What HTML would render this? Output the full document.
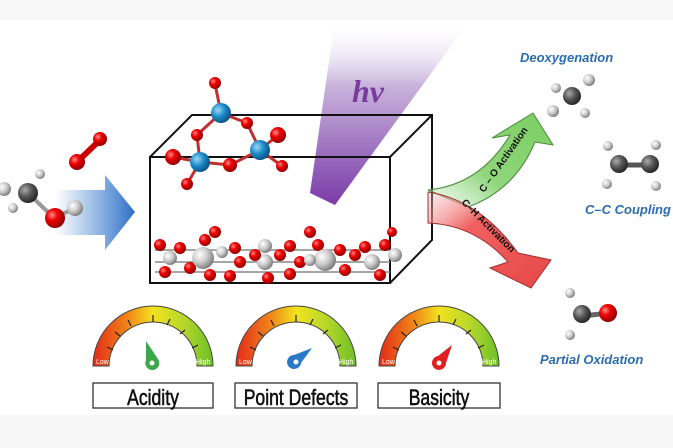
<!DOCTYPE html>
<html><head><meta charset="utf-8"><style>
html,body{margin:0;padding:0;background:#fff;}
svg{display:block}
.lab{font-family:"Liberation Sans",sans-serif;font-style:italic;font-weight:bold;fill:#2a6db0;font-size:13px}
.hand{font-family:"Liberation Sans Narrow","Liberation Sans",sans-serif;font-size:22px;fill:#111;stroke:#111;stroke-width:0.6}
</style></head><body>
<svg width="673" height="448" viewBox="0 0 673 448" xmlns="http://www.w3.org/2000/svg">
<defs>
<linearGradient id="beam" x1="0" y1="0" x2="0" y2="1">
<stop offset="0" stop-color="#fff" stop-opacity="0"/><stop offset="0.35" stop-color="#c9b4dc"/><stop offset="1" stop-color="#7a3aa8"/></linearGradient>
<linearGradient id="blue" x1="0" y1="0" x2="1" y2="0">
<stop offset="0" stop-color="#3d7fd0" stop-opacity="0"/><stop offset="1" stop-color="#2d6fc6"/></linearGradient>
<linearGradient id="gauge" x1="0" y1="0" x2="1" y2="0">
<stop offset="0" stop-color="#e42a1a"/><stop offset="0.3" stop-color="#f08a18"/><stop offset="0.5" stop-color="#f2e21e"/><stop offset="0.75" stop-color="#b8d82a"/><stop offset="1" stop-color="#6cbf2a"/></linearGradient>
<radialGradient id="red" cx="0.35" cy="0.35" r="0.7"><stop offset="0" stop-color="#ff8a8a"/><stop offset="0.4" stop-color="#e00"/><stop offset="1" stop-color="#800"/></radialGradient>
<radialGradient id="gray" cx="0.35" cy="0.35" r="0.7"><stop offset="0" stop-color="#fff"/><stop offset="0.5" stop-color="#ccc"/><stop offset="1" stop-color="#777"/></radialGradient>
<radialGradient id="dark" cx="0.35" cy="0.35" r="0.7"><stop offset="0" stop-color="#aaa"/><stop offset="0.5" stop-color="#555"/><stop offset="1" stop-color="#222"/></radialGradient>
<radialGradient id="bl" cx="0.35" cy="0.35" r="0.7"><stop offset="0" stop-color="#9fd8f5"/><stop offset="0.5" stop-color="#1a8ac8"/><stop offset="1" stop-color="#0a4f80"/></radialGradient>
<linearGradient id="grn" x1="0" y1="1" x2="1" y2="0"><stop offset="0" stop-color="#cdeecf" stop-opacity="0.3"/><stop offset="0.4" stop-color="#8fd67a"/><stop offset="1" stop-color="#7bcf62"/></linearGradient>
<linearGradient id="rd" x1="0" y1="0" x2="1" y2="1"><stop offset="0" stop-color="#f6c0c0" stop-opacity="0.3"/><stop offset="0.35" stop-color="#f06060"/><stop offset="1" stop-color="#e84848"/></linearGradient>
</defs>
<rect width="673" height="20" fill="#f8f8f8"/>
<rect y="415" width="673" height="33" fill="#f7f7f7"/>

<!-- beam -->
<polygon points="335,20 470,20 335,205 310,193" fill="url(#beam)"/>
<text x="352" y="102" font-family="Liberation Serif,serif" font-style="italic" font-weight="bold" font-size="32" fill="#7a3aa0">hν</text>

<!-- box -->
<g fill="none" stroke="#111" stroke-width="2">
<polygon points="150,157 390,157 390,283 150,283"/>
<polyline points="150,157 192,115 432,115 432,240 390,283"/>
<line x1="390" y1="157" x2="432" y2="115"/>
</g>

<!-- lattice -->
<g stroke="#888" stroke-width="1.5">
<line x1="155" y1="250" x2="390" y2="250"/><line x1="155" y1="262" x2="390" y2="262"/><line x1="155" y1="272" x2="390" y2="272"/>
</g>
<g>
<circle cx="160" cy="245" r="6" fill="url(#red)"/><circle cx="170" cy="258" r="7" fill="url(#gray)"/><circle cx="180" cy="248" r="6" fill="url(#red)"/><circle cx="165" cy="272" r="6" fill="url(#red)"/><circle cx="190" cy="268" r="6" fill="url(#red)"/>
<circle cx="205" cy="240" r="6" fill="url(#red)"/><circle cx="215" cy="232" r="6" fill="url(#red)"/><circle cx="203" cy="258" r="11" fill="url(#gray)"/><circle cx="222" cy="252" r="6" fill="url(#gray)"/><circle cx="210" cy="275" r="6" fill="url(#red)"/>
<circle cx="235" cy="248" r="6" fill="url(#red)"/><circle cx="240" cy="262" r="6" fill="url(#red)"/><circle cx="230" cy="276" r="6" fill="url(#red)"/>
<circle cx="265" cy="246" r="7" fill="url(#gray)"/><circle cx="265" cy="262" r="8" fill="url(#gray)"/><circle cx="255" cy="255" r="6" fill="url(#red)"/><circle cx="280" cy="255" r="6" fill="url(#red)"/><circle cx="268" cy="278" r="6" fill="url(#red)"/>
<circle cx="290" cy="246" r="6" fill="url(#red)"/><circle cx="300" cy="262" r="6" fill="url(#red)"/><circle cx="290" cy="274" r="6" fill="url(#red)"/>
<circle cx="310" cy="232" r="6" fill="url(#red)"/><circle cx="318" cy="245" r="6" fill="url(#red)"/><circle cx="325" cy="260" r="11" fill="url(#gray)"/><circle cx="310" cy="260" r="6" fill="url(#gray)"/><circle cx="340" cy="250" r="6" fill="url(#red)"/><circle cx="345" cy="270" r="6" fill="url(#red)"/>
<circle cx="355" cy="255" r="6" fill="url(#red)"/><circle cx="372" cy="262" r="8" fill="url(#gray)"/><circle cx="365" cy="247" r="6" fill="url(#red)"/><circle cx="380" cy="275" r="6" fill="url(#red)"/><circle cx="385" cy="245" r="6" fill="url(#red)"/><circle cx="392" cy="232" r="5" fill="url(#red)"/><circle cx="395" cy="255" r="7" fill="url(#gray)"/>
</g>

<!-- cluster -->
<g stroke="#c03030" stroke-width="3">
<line x1="215" y1="84" x2="221" y2="113"/><line x1="221" y1="113" x2="197" y2="135"/><line x1="221" y1="113" x2="247" y2="123"/><line x1="197" y1="135" x2="200" y2="162"/><line x1="247" y1="123" x2="260" y2="150"/><line x1="200" y1="162" x2="230" y2="165"/><line x1="230" y1="165" x2="260" y2="150"/><line x1="260" y1="150" x2="278" y2="135"/><line x1="260" y1="150" x2="282" y2="166"/><line x1="200" y1="162" x2="187" y2="184"/><line x1="200" y1="162" x2="173" y2="157"/>
</g>
<circle cx="215" cy="83" r="6" fill="url(#red)"/><circle cx="221" cy="113" r="10" fill="url(#bl)"/><circle cx="200" cy="162" r="10" fill="url(#bl)"/><circle cx="260" cy="150" r="10" fill="url(#bl)"/>
<circle cx="197" cy="135" r="6" fill="url(#red)"/><circle cx="247" cy="123" r="6" fill="url(#red)"/><circle cx="278" cy="135" r="8" fill="url(#red)"/><circle cx="230" cy="165" r="7" fill="url(#red)"/><circle cx="173" cy="157" r="8" fill="url(#red)"/><circle cx="282" cy="166" r="6" fill="url(#red)"/><circle cx="187" cy="184" r="6" fill="url(#red)"/>

<!-- blue arrow -->
<polygon points="55,190 105,190 105,175 135,212 105,250 105,235 55,235" fill="url(#blue)"/>

<!-- methanol & O2 -->
<line x1="77" y1="162" x2="100" y2="140" stroke="#c00" stroke-width="6"/>
<circle cx="77" cy="162" r="8" fill="url(#red)"/><circle cx="100" cy="139" r="7" fill="url(#red)"/>
<g stroke="#999" stroke-width="4"><line x1="28" y1="193" x2="54" y2="218"/><line x1="54" y1="218" x2="75" y2="208"/></g>
<circle cx="40" cy="174" r="5" fill="url(#gray)"/><circle cx="4" cy="189" r="7" fill="url(#gray)"/><circle cx="13" cy="208" r="5" fill="url(#gray)"/>
<circle cx="28" cy="193" r="10" fill="url(#dark)"/><circle cx="55" cy="218" r="10" fill="url(#red)"/><circle cx="75" cy="208" r="8" fill="url(#gray)"/>

<!-- green arrow -->
<path d="M428,190 Q480,185 510,135 L492,138 L533,113 L553,145 L535,142 Q515,190 468,207 Z" fill="url(#grn)" stroke="#4a8a3a" stroke-width="1"/>
<text transform="translate(484,193) rotate(-55)" font-family="Liberation Sans,sans-serif" font-size="10" font-weight="bold" fill="#111">C – O Activation</text>
<!-- red arrow -->
<path d="M428,192 Q480,200 518,253 L551,260 L531,288 L490,268 L508,262 Q475,225 428,223 Z" fill="url(#rd)" stroke="#a03030" stroke-width="1"/>
<text transform="translate(461,203) rotate(45)" font-family="Liberation Sans,sans-serif" font-size="10" font-weight="bold" fill="#111">C–H Activation</text>

<!-- products -->
<text class="lab" x="520" y="62">Deoxygenation</text>
<circle cx="556" cy="88" r="5" fill="url(#gray)"/><circle cx="589" cy="80" r="6" fill="url(#gray)"/><circle cx="553" cy="111" r="6" fill="url(#gray)"/><circle cx="585" cy="113" r="5" fill="url(#gray)"/>
<circle cx="572" cy="96" r="9" fill="url(#dark)"/>
<line x1="618" y1="165" x2="650" y2="165" stroke="#555" stroke-width="5"/>
<circle cx="608" cy="146" r="5" fill="url(#gray)"/><circle cx="656" cy="145" r="5" fill="url(#gray)"/><circle cx="607" cy="184" r="5" fill="url(#gray)"/><circle cx="656" cy="186" r="5" fill="url(#gray)"/>
<circle cx="619" cy="164" r="9" fill="url(#dark)"/><circle cx="650" cy="164" r="9" fill="url(#dark)"/>
<text class="lab" x="585" y="214" font-size="14">C–C Coupling</text>
<line x1="582" y1="316" x2="610" y2="313" stroke="#666" stroke-width="5"/>
<circle cx="570" cy="293" r="5" fill="url(#gray)"/><circle cx="570" cy="335" r="5" fill="url(#gray)"/>
<circle cx="582" cy="314" r="9" fill="url(#dark)"/><circle cx="608" cy="313" r="9" fill="url(#red)"/>
<text class="lab" x="540" y="364">Partial Oxidation</text>

<!-- gauges -->
<path d="M93,366 A60,60 0 0 1 213,366 L197,366 A44,44 0 0 0 109,366 Z" fill="url(#gauge)" stroke="#444" stroke-width="1"/>
<path d="M236,366 A60,60 0 0 1 356,366 L340,366 A44,44 0 0 0 252,366 Z" fill="url(#gauge)" stroke="#444" stroke-width="1"/>
<path d="M379,366 A60,60 0 0 1 499,366 L483,366 A44,44 0 0 0 395,366 Z" fill="url(#gauge)" stroke="#444" stroke-width="1"/>
<g stroke="#222" stroke-width="1.2">
<path d="M113,350 l-6,-3 M120,336 l-5,-4 M131,326 l-3,-6 M153,322 v-7 M167,325 l3,-6 M180,334 l5,-4 M192,348 l6,-3"/>
<path d="M256,350 l-6,-3 M263,336 l-5,-4 M274,326 l-3,-6 M296,322 v-7 M310,325 l3,-6 M323,334 l5,-4 M335,348 l6,-3"/>
<path d="M399,350 l-6,-3 M406,336 l-5,-4 M417,326 l-3,-6 M439,322 v-7 M453,325 l3,-6 M466,334 l5,-4 M478,348 l6,-3"/>
</g>
<g font-family="Liberation Sans,sans-serif" font-size="7" fill="#fff">
<text x="96" y="364">Low</text><text x="196" y="364">High</text>
<text x="239" y="364">Low</text><text x="339" y="364">High</text>
<text x="382" y="364">Low</text><text x="482" y="364">High</text>
</g>
<path d="M146,341 L158,359 A7,7 0 1 1 146,360 Z" fill="#3aa84a"/><circle cx="152" cy="363" r="2.5" fill="#fff"/>
<path d="M312,348 L301,363 A7,7 0 1 1 294,355 Z" fill="#2a78c8"/><circle cx="296" cy="362" r="2.5" fill="#fff"/>
<path d="M452,345 L446,363 A7,7 0 1 1 438,356 Z" fill="#e02020"/><circle cx="439" cy="363" r="2.5" fill="#fff"/>
<g fill="#fff" stroke="#333" stroke-width="1.3">
<rect x="93" y="383" width="120" height="25"/><rect x="235" y="383" width="122" height="25"/><rect x="378" y="383" width="122" height="25"/>
</g>
<g class="hand" text-anchor="middle">
<text x="153" y="405" transform="translate(153,0) scale(0.8,1) translate(-153,0)">Acidity</text>
<text x="296" y="405" transform="translate(296,0) scale(0.8,1) translate(-296,0)">Point Defects</text>
<text x="439" y="405" transform="translate(439,0) scale(0.8,1) translate(-439,0)">Basicity</text>
</g>
</svg>
</body></html>
